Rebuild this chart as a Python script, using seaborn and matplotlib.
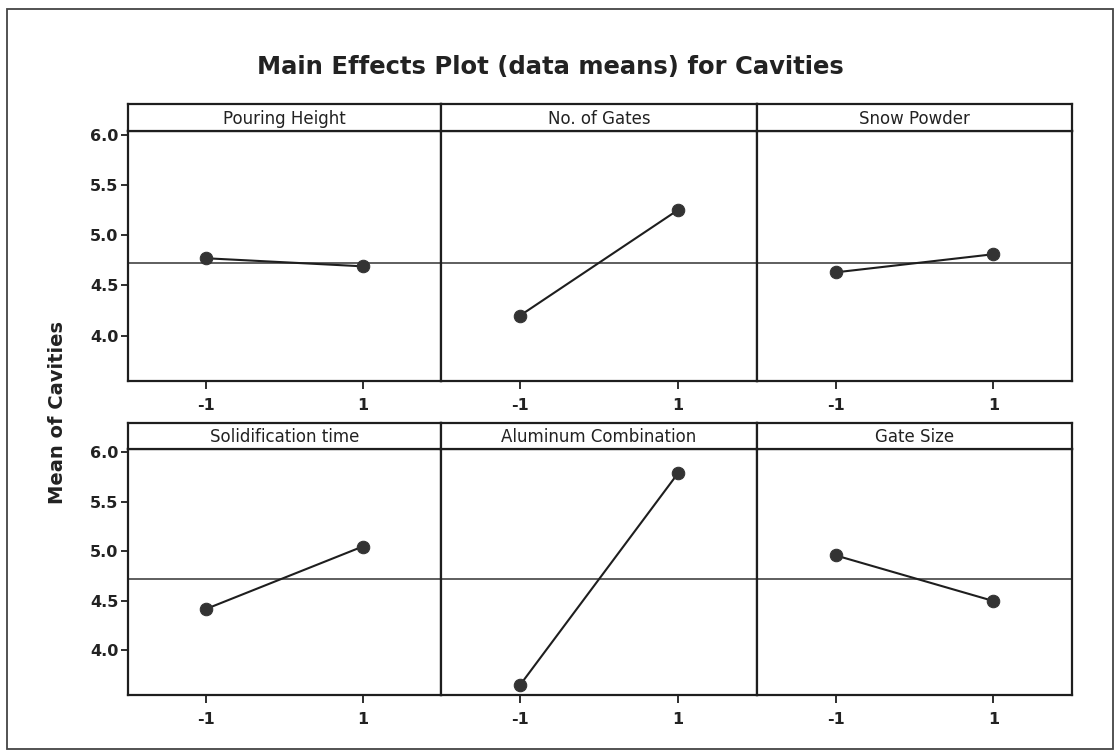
import matplotlib
matplotlib.use("Agg")
import matplotlib.pyplot as plt
import seaborn as sns
import pandas as pd
from matplotlib.patches import Rectangle

sns.set_style("white")
plt.rcParams['font.family'] = ['DejaVu Sans']

# ---- data ----
factors = ["Pouring Height", "No. of Gates", "Snow Powder",
           "Solidification time", "Aluminum Combination", "Gate Size"]
levels = [-1, 1]
level_labels = ["-1", "1"]
mean_low = [4.77, 4.20, 4.63, 4.42, 3.65, 4.96]
mean_high = [4.69, 5.25, 4.81, 5.05, 5.79, 4.50]
grand_mean = 4.725
y_ticks = [4.0, 4.5, 5.0, 5.5, 6.0]
y_tick_labels = ["4.0", "4.5", "5.0", "5.5", "6.0"]

rows = []
for f, lo, hi in zip(factors, mean_low, mean_high):
    rows.append({"factor": f, "level": levels[0], "mean": lo})
    rows.append({"factor": f, "level": levels[1], "mean": hi})
df = pd.DataFrame(rows)

W, H = 1119, 752
fig = plt.figure(figsize=(W / 100, H / 100), dpi=100)
fig.patch.set_facecolor("white")

# outer frame
fig.patches.append(Rectangle((7 / W, 1 - 749 / H), (1113 - 7) / W, (749 - 9) / H,
                             transform=fig.transFigure, fill=False,
                             edgecolor="#444444", linewidth=1.3))

col_x = [128, 441, 757, 1072]
row_y = [(104, 131, 381), (423, 449, 695)]

def px_rect(x0, x1, y0, y1):
    return [x0 / W, 1 - y1 / H, (x1 - x0) / W, (y1 - y0) / H]

ink = "#1e1e1e"
for i, f in enumerate(factors):
    r, c = divmod(i, 3)
    st, pt, pb = row_y[r]
    x0, x1 = col_x[c], col_x[c + 1]
    ax = fig.add_axes(px_rect(x0, x1, pt, pb))
    sub = df[df["factor"] == f]
    ax.axhline(grand_mean, color="#333333", linewidth=1.1, zorder=1)
    sns.lineplot(data=sub, x="level", y="mean", ax=ax, color=ink,
                 linewidth=1.5, marker="o", markersize=9,
                 markerfacecolor="#333333", markeredgecolor="#333333",
                 legend=False, zorder=3)
    ax.set_xlim(-2, 2)
    ax.set_ylim(3.55, 6.035)
    ax.set_xticks(levels)
    ax.set_xticklabels(level_labels, fontsize=11.5, fontweight="bold", color="#222222")
    ax.set_xlabel("")
    ax.set_ylabel("")
    ax.set_yticks(y_ticks)
    if c == 0:
        ax.set_yticklabels(y_tick_labels, fontsize=11.5, fontweight="bold", color="#222222")
        ax.tick_params(axis="y", direction="out", length=5, width=1.3, color=ink, pad=2, left=True)
    else:
        ax.set_yticklabels([])
        ax.tick_params(axis="y", left=False, length=0)
    ax.tick_params(axis="x", direction="out", length=6, width=1.3, color=ink, pad=6, bottom=True)
    for s in ax.spines.values():
        s.set_color(ink)
        s.set_linewidth(1.6)

    # strip
    sax = fig.add_axes(px_rect(x0, x1, st, pt))
    sax.set_xticks([])
    sax.set_yticks([])
    sax.set_facecolor("white")
    for s in sax.spines.values():
        s.set_color(ink)
        s.set_linewidth(1.6)
    sax.text(0.5, 0.45, f, ha="center", va="center", fontsize=12, color="#222222",
             transform=sax.transAxes)

fig.text(550 / W, 1 - 67 / H, "Main Effects Plot (data means) for Cavities",
         ha="center", va="center", fontsize=17.5, fontweight="bold", color="#222222")
fig.text(58 / W, 1 - 412 / H, "Mean of Cavities", ha="center", va="center",
         rotation=90, fontsize=14, fontweight="bold", color="#222222")

fig.savefig("out.png", dpi=100, facecolor="white")
